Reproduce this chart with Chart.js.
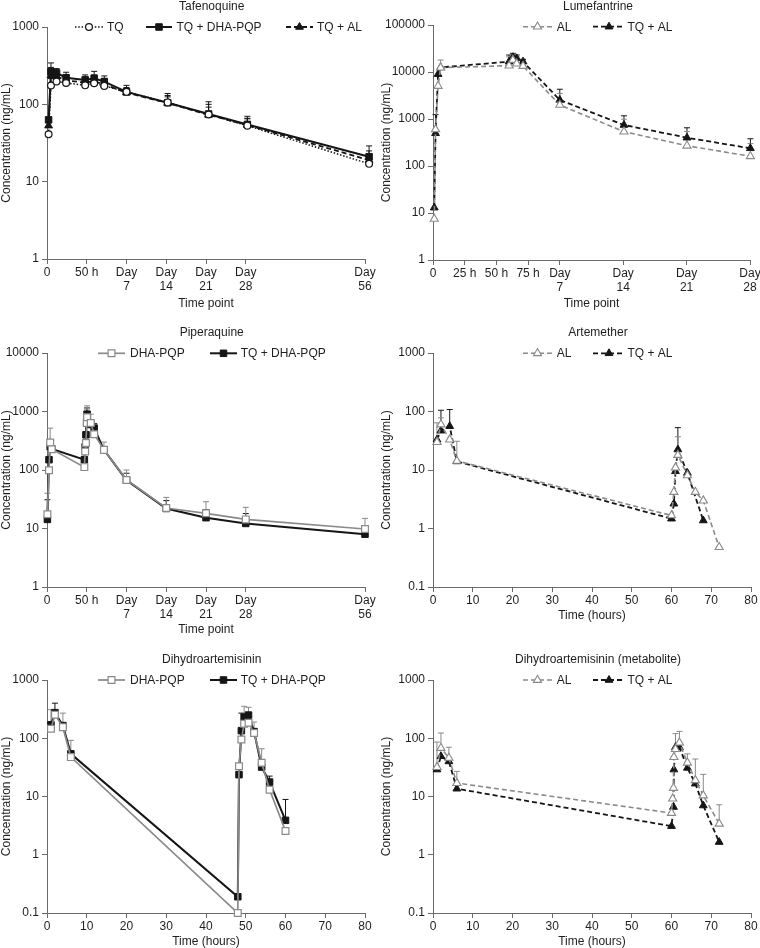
<!DOCTYPE html>
<html><head><meta charset="utf-8">
<script src="https://cdn.jsdelivr.net/npm/chart.js@4.4.1/dist/chart.umd.min.js"></script>
<style>
html,body{margin:0;padding:0;background:#fff;width:760px;height:948px;overflow:hidden;position:relative;}
canvas{position:absolute;}
</style></head><body>
<canvas id="c1" width="380" height="312" style="left:0;top:0"></canvas>
<canvas id="c2" width="390" height="312" style="left:380px;top:0"></canvas>
<canvas id="c3" width="380" height="326" style="left:0;top:312px"></canvas>
<canvas id="c4" width="390" height="312" style="left:380px;top:312px"></canvas>
<canvas id="c5" width="380" height="313" style="left:0;top:635px"></canvas>
<canvas id="c6" width="390" height="313" style="left:380px;top:635px"></canvas>
<script>
// ---------- DATA ----------
// Time-point axes (hours -> axis position breakpoints)
const tpTickUnits = [0, 1, 2, 3, 4, 5, 8];
const tpTickLabels = ['0', '50 h', ['Day', '7'], ['Day', '14'], ['Day', '21'], ['Day', '28'], ['Day', '56']];
const tpBreakHours = [0, 50, 168, 336, 504, 672, 1344];
const lumTickUnits = [0, 1, 2, 3, 4, 6, 8, 10];
const lumTickLabels = ['0', '25 h', '50 h', '75 h', ['Day', '7'], ['Day', '14'], ['Day', '21'], ['Day', '28']];
const lumBreakHours = [0, 25, 50, 75, 168, 336, 504, 672];
const hourTicks = [0, 10, 20, 30, 40, 50, 60, 70, 80];

// Tafenoquine
const tqHours = [2, 5, 12, 24, 48, 72, 102, 168, 342, 515, 681, 1367];
const tqMean = [41, 175, 197, 189, 176, 187, 173, 145, 106, 74, 53, 17];
const tqErr = [null, 215, 235, 230, 210, 225, 215, 165, 125, 92, 65, 22];
const tqDhaMean = [63, 265, 255, 221, 207, 217, 197, 145, 105, 75, 55, 21];
const tqDhaErr = [null, 343, 290, 260, 240, 267, 233, 176, 138, 108, 70, 29];
const tqAlMean = [53, 235, 230, 205, 190, 200, 180, 142, 104, 73, 54, 19];
const tqAlErr = [null, 300, 270, 240, 225, 240, 210, 160, 130, 100, 66, 25];

// Lumefantrine
const lumHours = [1, 2, 4, 6, 60, 63, 66, 71, 168, 338, 505, 673];
const lumAL = [7.5, 603, 5040, 12400, 13600, 18000, 15100, 13400, 1990, 537, 270, 161];
const lumALErr = [null, null, 8200, 18000, 21000, 23000, 21000, 17000, 3500, 990, 540, 300];
const lumTqAL = [13, 496, 9000, 12500, 16600, 20500, 19500, 16600, 2540, 745, 400, 238];
const lumTqALErr = [null, 1240, null, null, 23000, 25000, 23000, 18600, 4300, 1170, 650, 380];

// Piperaquine
const pqHours = [0.5, 2.5, 4, 6, 47, 48, 49, 50, 51, 62, 72, 101, 168, 336, 504, 672, 1344];
const pqDha = [17.5, 99, 295, 227, 112, 207, 289, 636, 800, 636, 409, 221, 67.5, 22.4, 18.2, 14.3, 9.8];
const pqDhaErr = [40, null, 520, null, null, null, null, 1100, 1250, 900, null, 300, 100, 34, 28.7, 23, 14.9];
const pqTqDha = [14.3, 150, 250, 230, 150, 250, 400, 700, 900, 600, 520, 221, 67, 22, 15.3, 12.2, 8.0];
const pqTqDhaErr = [31, null, null, null, null, null, 560, 1000, 1150, null, 620, null, 88, 30, 21, 18, null];

// Artemether
const amALHours = [1, 2, 4.2, 6, 60, 60.6, 61, 61.6, 64, 66, 68, 72];
const amAL = [30, 60, 33, 14.3, 1.67, 4.2, 11, 18, 8.1, 4.2, 3.0, 0.48];
const amALErr = [64, 78, null, 31, null, null, null, 37, null, null, null, null];
const amTqALHours = [1, 2, 4.2, 6, 60, 60.6, 61, 61.6, 64, 68];
const amTqAL = [33, 47, 56, 14, 1.47, 2.65, 9.5, 22.4, 8.9, 1.37];
const amTqALErr = [null, 105, 108, null, null, null, null, 53, null, null];

// Dihydroartemisinin (DHA-PQP arms)
const dhHours = [1, 2, 4, 6, 48, 48.3, 48.9, 49.6, 50.7, 52.1, 54, 56, 60];
const dhDha = [146, 254, 155, 47.5, 0.1, 33, 95, 178, 185, 123, 38, 13.1, 2.55];
const dhDhaErr = [310, null, 270, 92, null, null, null, 353, 340, 190, 66, null, null];
const dhTqDha = [170, 275, 165, 54, 0.19, 23.7, 135, 231, 250, 130, 32, 17.7, 3.9];
const dhTqDhaErr = [null, 400, null, null, null, null, 270, null, null, null, null, 22.4, 8.9];

// Dihydroartemisinin (metabolite, AL arms)
const dmALHours = [1, 2, 4, 6, 60, 60.3, 60.5, 60.6, 61, 62, 64, 66, 68, 72];
const dmAL = [32, 68, 46, 17, 5.2, 9.2, 14, 47.5, 65, 84, 38, 19, 10.4, 3.4];
const dmALErr = [86, 123, 70, 27, null, null, null, null, 120, 131, 54, 44, 24, 7.2];
const dmTqALHours = [1, 2, 4, 6, 60, 60.5, 60.6, 61, 62, 64, 66, 68, 72];
const dmTqAL = [29, 49, 40, 13.6, 3.1, 6.6, 29, 70, 70, 31, 16.6, 7.0, 1.65];
const dmTqALErr = [null, null, null, null, null, null, null, null, null, null, null, null, null];

// ---------- STYLE ----------
const FONT = "'Liberation Sans', Arial, Helvetica, sans-serif";
const GRAY = '#8a8a8a', BLACK = '#151515', AXIS = '#6a6a6a', TEXT = '#1e1e1e';
const tickFont = {family: FONT, size: 12, lineHeight: 1.1};

const stTQ = {borderColor: BLACK, borderWidth: 1.5, borderDash: [1.5, 1.8], pointStyle: 'circle', pointRadius: 3.4, pointBackgroundColor: '#fff', pointBorderColor: BLACK, pointBorderWidth: 1.2};
const stBlackSq = {borderColor: BLACK, borderWidth: 2, borderDash: [], pointStyle: 'rect', pointRadius: 4.6, pointBackgroundColor: BLACK, pointBorderColor: BLACK, pointBorderWidth: 1};
const stGraySq = {borderColor: GRAY, borderWidth: 1.7, borderDash: [], pointStyle: 'rect', pointRadius: 4.8, pointBackgroundColor: '#fff', pointBorderColor: GRAY, pointBorderWidth: 1.2};
const stBlackTri = {borderColor: BLACK, borderWidth: 1.8, borderDash: [5, 3], pointStyle: 'triangle', pointRadius: 4.5, pointBackgroundColor: BLACK, pointBorderColor: BLACK, pointBorderWidth: 1};
const stGrayTri = {borderColor: GRAY, borderWidth: 1.6, borderDash: [5, 3], pointStyle: 'triangle', pointRadius: 4.7, pointBackgroundColor: '#fff', pointBorderColor: GRAY, pointBorderWidth: 1.1};

function pw(bh, bu) {
  return h => { let i = 1; while (i < bh.length - 1 && h > bh[i]) i++; return bu[i - 1] + (h - bh[i - 1]) * (bu[i] - bu[i - 1]) / (bh[i] - bh[i - 1]); };
}
const tpMap = pw(tpBreakHours, tpTickUnits);
const lumMap = pw(lumBreakHours, lumTickUnits);
const idMap = h => h;

function series(label, xs, ys, err, style, map) {
  return Object.assign({label, data: xs.map((x, i) => ({x: map(x), y: ys[i]})), errUpper: err, clip: false, tension: 0, fill: false}, style);
}

function axisCommon() {
  return {grid: {display: true, drawOnChartArea: false, drawTicks: true, tickLength: 5, color: AXIS, lineWidth: 1}, border: {display: true, color: AXIS, width: 1}};
}
function yAxis(min, max, width) {
  return Object.assign(axisCommon(), {
    type: 'logarithmic', min, max, position: 'left',
    afterFit: s => { s.width = width; },
    afterBuildTicks: s => { const t = []; for (let e = Math.round(Math.log10(min)); e <= Math.round(Math.log10(max)); e++) t.push({value: Math.pow(10, e)}); s.ticks = t; },
    ticks: {font: tickFont, color: TEXT, padding: 3, autoSkip: false, callback: v => (v < 1 ? v.toFixed(1) : String(Math.round(v)))},
    title: {display: true, text: 'Concentration (ng/mL)', font: tickFont, color: TEXT, padding: 0}
  });
}
function xAxis(units, labels, maxU, titleText, titlePad) {
  return Object.assign(axisCommon(), {
    type: 'linear', min: 0, max: maxU, position: 'bottom',
    afterBuildTicks: s => { s.ticks = units.map(v => ({value: v})); },
    ticks: {font: tickFont, color: TEXT, padding: 2.5, autoSkip: false, maxRotation: 0, minRotation: 0, callback: (v, i) => labels[i]},
    title: {display: true, text: titleText, font: tickFont, color: TEXT, padding: {top: 0, bottom: titlePad}}
  });
}

function marker(ctx, style, r, x, y, fill, stroke, bw) {
  ctx.save(); ctx.setLineDash([]); ctx.fillStyle = fill; ctx.strokeStyle = stroke; ctx.lineWidth = bw;
  ctx.beginPath();
  if (style === 'circle') ctx.arc(x, y, r, 0, Math.PI * 2);
  else if (style === 'rect') { const s = r * Math.SQRT1_2; ctx.rect(x - s, y - s, 2 * s, 2 * s); }
  else { let a = 0; ctx.moveTo(x + Math.sin(a) * r, y - Math.cos(a) * r); a += 2 * Math.PI / 3; ctx.lineTo(x + Math.sin(a) * r, y - Math.cos(a) * r); a += 2 * Math.PI / 3; ctx.lineTo(x + Math.sin(a) * r, y - Math.cos(a) * r); ctx.closePath(); }
  ctx.fill(); ctx.stroke(); ctx.restore();
}

function makeChart(cfg) {
  const cv = document.getElementById(cfg.id);
  const W = cv.width, H = cv.height, A = cfg.area;
  const decor = {
    id: 'decor_' + cfg.id,
    beforeDatasetsDraw(chart) {
      const ctx = chart.ctx, ys = chart.scales.y;
      for (let d = chart.data.datasets.length - 1; d >= 0; d--) {
        const ds = chart.data.datasets[d]; if (!ds.errUpper) continue;
        const meta = chart.getDatasetMeta(d);
        ctx.save(); ctx.strokeStyle = ds.borderColor; ctx.lineWidth = 1; ctx.setLineDash([]);
        ds.errUpper.forEach((e, i) => {
          if (e == null) return; const p = meta.data[i]; if (!p) return;
          const yt = ys.getPixelForValue(e);
          ctx.beginPath(); ctx.moveTo(p.x, p.y); ctx.lineTo(p.x, yt); ctx.moveTo(p.x - 3, yt); ctx.lineTo(p.x + 3, yt); ctx.stroke();
        });
        ctx.restore();
      }
    },
    afterDraw(chart) {
      const ctx = chart.ctx;
      ctx.save();
      ctx.font = '12px ' + FONT; ctx.fillStyle = TEXT; ctx.textBaseline = 'middle'; ctx.textAlign = 'center';
      ctx.fillText(cfg.title, cfg.titleX, cfg.titleY);
      ctx.textAlign = 'left';
      cfg.legend.forEach(it => {
        const ds = chart.data.datasets[it.ds];
        ctx.save(); ctx.strokeStyle = ds.borderColor; ctx.lineWidth = ds.borderWidth; ctx.setLineDash(ds.borderDash || []);
        ctx.beginPath(); ctx.moveTo(it.x1, cfg.legendY); ctx.lineTo(it.x2, cfg.legendY); ctx.stroke(); ctx.restore();
        marker(ctx, ds.pointStyle, ds.pointRadius, (it.x1 + it.x2) / 2, cfg.legendY, ds.pointBackgroundColor, ds.pointBorderColor, ds.pointBorderWidth);
        ctx.fillStyle = TEXT; ctx.fillText(ds.label, it.tx, cfg.legendY + 0.8);
      });
      ctx.restore();
    }
  };
  const xs = cfg.xAxis; xs.afterFit = s => { s.height = H - A.bottom; };
  return new Chart(cv, {
    type: 'line',
    data: {datasets: cfg.datasets},
    options: {
      responsive: false, animation: false, devicePixelRatio: 1,
      layout: {padding: {left: 0, top: A.top, right: W - A.right, bottom: 0}},
      plugins: {legend: {display: false}, tooltip: {enabled: false}, title: {display: false}},
      scales: {x: xs, y: yAxis(cfg.yMin, cfg.yMax, A.left)},
      elements: {line: {tension: 0}}
    },
    plugins: [decor]
  });
}

const legL = [{ds: 0, x1: 98, x2: 125, tx: 130}, {ds: 1, x1: 210, x2: 237, tx: 240.7}];
const legR = [{ds: 0, x1: 143, x2: 172, tx: 176.7}, {ds: 1, x1: 213, x2: 245, tx: 247.5}];

makeChart({
  id: 'c1', area: {left: 47, top: 27, right: 365, bottom: 259}, yMin: 1, yMax: 1000,
  xAxis: xAxis(tpTickUnits, tpTickLabels, 8, 'Time point', 1.4),
  title: 'Tafenoquine', titleX: 211.7, titleY: 7, legendY: 27,
  legend: [{ds: 0, x1: 75, x2: 103, tx: 107}, {ds: 1, x1: 146, x2: 172, tx: 176.5}, {ds: 2, x1: 286, x2: 313, tx: 317}],
  datasets: [
    series('TQ', tqHours, tqMean, tqErr, stTQ, tpMap),
    series('TQ + DHA-PQP', tqHours, tqDhaMean, tqDhaErr, stBlackSq, tpMap),
    series('TQ + AL', tqHours, tqAlMean, tqAlErr, stBlackTri, tpMap)
  ]
});
makeChart({
  id: 'c2', area: {left: 53, top: 25, right: 370, bottom: 260}, yMin: 1, yMax: 100000,
  xAxis: xAxis(lumTickUnits, lumTickLabels, 10, 'Time point', 1.4),
  title: 'Lumefantrine', titleX: 218, titleY: 7, legendY: 26.7, legend: legR,
  datasets: [
    series('AL', lumHours, lumAL, lumALErr, stGrayTri, lumMap),
    series('TQ + AL', lumHours, lumTqAL, lumTqALErr, stBlackTri, lumMap)
  ]
});
makeChart({
  id: 'c3', area: {left: 47, top: 41, right: 365, bottom: 275}, yMin: 1, yMax: 10000,
  xAxis: xAxis(tpTickUnits, tpTickLabels, 8, 'Time point', 1.4),
  title: 'Piperaquine', titleX: 211.7, titleY: 20.5, legendY: 41.3, legend: legL,
  datasets: [
    series('DHA-PQP', pqHours, pqDha, pqDhaErr, stGraySq, tpMap),
    series('TQ + DHA-PQP', pqHours, pqTqDha, pqTqDhaErr, stBlackSq, tpMap)
  ]
});
makeChart({
  id: 'c4', area: {left: 53, top: 41, right: 371, bottom: 275}, yMin: 0.1, yMax: 1000,
  xAxis: xAxis(hourTicks, hourTicks.map(String), 80, 'Time (hours)', 1.4),
  title: 'Artemether', titleX: 218, titleY: 20.5, legendY: 41.3, legend: legR,
  datasets: [
    series('AL', amALHours, amAL, amALErr, stGrayTri, idMap),
    series('TQ + AL', amTqALHours, amTqAL, amTqALErr, stBlackTri, idMap)
  ]
});
makeChart({
  id: 'c5', area: {left: 47, top: 45, right: 365, bottom: 278}, yMin: 0.1, yMax: 1000,
  xAxis: xAxis(hourTicks, hourTicks.map(String), 80, 'Time (hours)', 0),
  title: 'Dihydroartemisinin', titleX: 211.7, titleY: 24.5, legendY: 45, legend: legL,
  datasets: [
    series('DHA-PQP', dhHours, dhDha, dhDhaErr, stGraySq, idMap),
    series('TQ + DHA-PQP', dhHours, dhTqDha, dhTqDhaErr, stBlackSq, idMap)
  ]
});
makeChart({
  id: 'c6', area: {left: 53, top: 45, right: 371, bottom: 278}, yMin: 0.1, yMax: 1000,
  xAxis: xAxis(hourTicks, hourTicks.map(String), 80, 'Time (hours)', 0),
  title: 'Dihydroartemisinin (metabolite)', titleX: 218, titleY: 24.5, legendY: 45, legend: legR,
  datasets: [
    series('AL', dmALHours, dmAL, dmALErr, stGrayTri, idMap),
    series('TQ + AL', dmTqALHours, dmTqAL, dmTqALErr, stBlackTri, idMap)
  ]
});
</script>
</body></html>
